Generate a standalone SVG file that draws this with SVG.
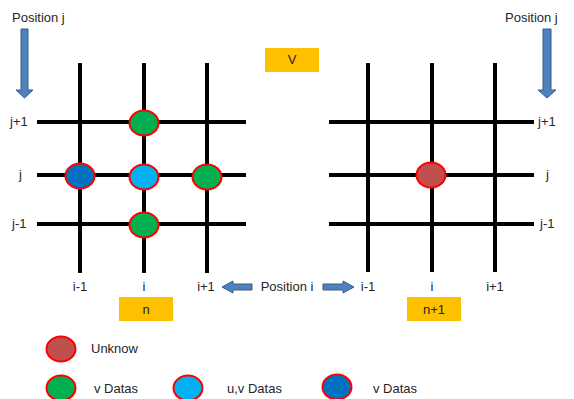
<svg xmlns="http://www.w3.org/2000/svg" width="574" height="399" viewBox="0 0 574 399">
<style>
.t{font-family:"Liberation Sans",Arial,sans-serif;font-size:13px;fill:#262626}
.g{stroke:#000;stroke-width:4;fill:none}
.n{stroke:#FF0000;stroke-width:2}
.box{fill:#FFC000}
.arr{fill:#4F81BD;stroke:#385D8A;stroke-width:1}
</style>
<rect width="574" height="399" fill="#fff"/>
<g id="connectors">
  <g id="grid-left">
    <path class="g" d="M80 63V273M144 63V273M207 63V273M37 122H246M37 175H246M37 224H246"/>
  </g>
  <g id="grid-right">
    <path class="g" d="M368 63V272M432 63V272M495 63V272M329 122H534M329 175H534M329 224H534"/>
  </g>
  <polygon id="arrow-j-left" class="arr" points="21,29 28,29 28,90 33,90 24.5,98 16,90 21,90"/>
  <polygon id="arrow-j-right" class="arr" points="543,29 551,29 551,90 556,90 547,98 538,90 543,90"/>
  <polygon id="arrow-i-left" class="arr" points="252,284 233,284 233,281 222,287 233,293 233,290 252,290"/>
  <polygon id="arrow-i-right" class="arr" points="323,284 343,284 343,281 354,287 343,293 343,290 323,290"/>
</g>
<g id="labels">
  <text class="t" x="12" y="22">Position j</text>
  <text class="t" x="505" y="22">Position j</text>
  <text class="t" x="10" y="126">j+1</text>
  <text class="t" x="19" y="179">j</text>
  <text class="t" x="12" y="228">j-1</text>
  <text class="t" x="538" y="126">j+1</text>
  <text class="t" x="546" y="179">j</text>
  <text class="t" x="540" y="228">j-1</text>
  <text class="t" x="80" y="291" text-anchor="middle">i-1</text>
  <text class="t" x="144" y="291" text-anchor="middle">i</text>
  <text class="t" x="206" y="291" text-anchor="middle">i+1</text>
  <text class="t" x="368" y="291" text-anchor="middle">i-1</text>
  <text class="t" x="432" y="291" text-anchor="middle">i</text>
  <text class="t" x="495" y="291" text-anchor="middle">i+1</text>
  <text class="t" x="287" y="291" text-anchor="middle">Position i</text>
</g>
<g id="box-V"><rect class="box" x="265" y="48" width="54" height="24"/><text class="t" x="292" y="64" text-anchor="middle">V</text></g>
<g id="box-n"><rect class="box" x="119" y="297" width="54" height="24"/><text class="t" x="146" y="314" text-anchor="middle">n</text></g>
<g id="box-n1"><rect class="box" x="407" y="297" width="54" height="24"/><text class="t" x="434" y="314" text-anchor="middle">n+1</text></g>
<g id="node-top"><ellipse class="n" cx="144" cy="123" rx="14.5" ry="12.5" fill="#00B050"/></g>
<g id="node-left"><ellipse class="n" cx="80" cy="176" rx="14.5" ry="12.5" fill="#0070C0"/></g>
<g id="node-center"><ellipse class="n" cx="144" cy="177" rx="14.5" ry="12.5" fill="#00B0F0"/></g>
<g id="node-right"><ellipse class="n" cx="207" cy="177" rx="14.5" ry="12.5" fill="#00B050"/></g>
<g id="node-bottom"><ellipse class="n" cx="144" cy="225" rx="14.5" ry="12.5" fill="#00B050"/></g>
<g id="node-unknown"><ellipse class="n" cx="431" cy="175" rx="14.5" ry="12.5" fill="#C0504D"/></g>
<g id="legend">
  <ellipse class="n" cx="61" cy="349" rx="14.5" ry="12.5" fill="#C0504D"/>
  <text class="t" x="91" y="353">Unknow</text>
  <ellipse class="n" cx="61" cy="388" rx="14.5" ry="12.5" fill="#00B050"/>
  <text class="t" x="94" y="393">v Datas</text>
  <ellipse class="n" cx="188" cy="388" rx="14.5" ry="12.5" fill="#00B0F0"/>
  <text class="t" x="227" y="393">u,v Datas</text>
  <ellipse class="n" cx="337" cy="387" rx="14.5" ry="12.5" fill="#0070C0"/>
  <text class="t" x="373" y="393">v Datas</text>
</g>
</svg>
